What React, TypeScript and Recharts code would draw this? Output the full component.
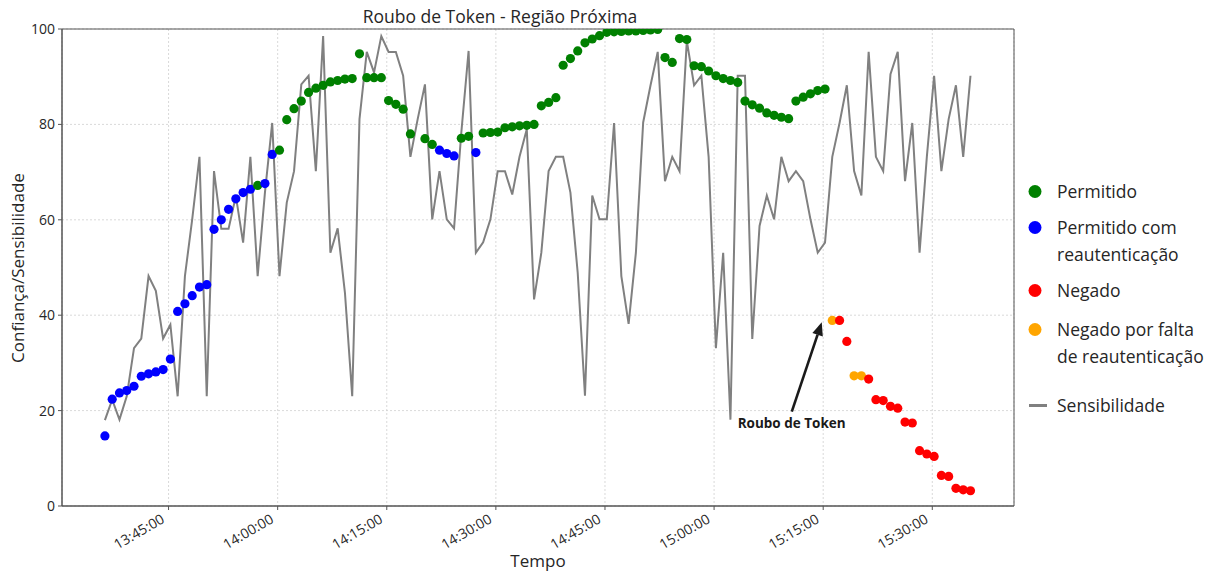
import React from 'react';
import {
  ComposedChart,
  Line,
  XAxis,
  YAxis,
  CartesianGrid,
  ReferenceArea,
  ReferenceLine,
  ReferenceDot,
  Legend,
} from 'recharts';

// Sample timestamps (one reading per minute)
const TIMES = [
  '13:36:15', '13:37:15', '13:38:15', '13:39:15', '13:40:15', '13:41:15', '13:42:15', '13:43:15', '13:44:15', '13:45:15',
  '13:46:15', '13:47:15', '13:48:15', '13:49:15', '13:50:15', '13:51:15', '13:52:15', '13:53:15', '13:54:15', '13:55:15',
  '13:56:15', '13:57:15', '13:58:15', '13:59:15', '14:00:15', '14:01:15', '14:02:15', '14:03:15', '14:04:15', '14:05:15',
  '14:06:15', '14:07:15', '14:08:15', '14:09:15', '14:10:15', '14:11:15', '14:12:15', '14:13:15', '14:14:15', '14:15:15',
  '14:16:15', '14:17:15', '14:18:15', '14:19:15', '14:20:15', '14:21:15', '14:22:15', '14:23:15', '14:24:15', '14:25:15',
  '14:26:15', '14:27:15', '14:28:15', '14:29:15', '14:30:15', '14:31:15', '14:32:15', '14:33:15', '14:34:15', '14:35:15',
  '14:36:15', '14:37:15', '14:38:15', '14:39:15', '14:40:15', '14:41:15', '14:42:15', '14:43:15', '14:44:15', '14:45:15',
  '14:46:15', '14:47:15', '14:48:15', '14:49:15', '14:50:15', '14:51:15', '14:52:15', '14:53:15', '14:54:15', '14:55:15',
  '14:56:15', '14:57:15', '14:58:15', '14:59:15', '15:00:15', '15:01:15', '15:02:15', '15:03:15', '15:04:15', '15:05:15',
  '15:06:15', '15:07:15', '15:08:15', '15:09:15', '15:10:15', '15:11:15', '15:12:15', '15:13:15', '15:14:15', '15:15:15',
  '15:16:15', '15:17:15', '15:18:15', '15:19:15', '15:20:15', '15:21:15', '15:22:15', '15:23:15', '15:24:15', '15:25:15',
  '15:26:15', '15:27:15', '15:28:15', '15:29:15', '15:30:15', '15:31:15', '15:32:15', '15:33:15', '15:34:15', '15:35:15',
];

// Confidence score of each access decision (null = no decision recorded)
const CONFIDENCE: (number | null)[] = [
  14.7, 22.4, 23.7, 24.2, 25.1, 27.2, 27.7, 28.1, 28.6, 30.8,
  40.8, 42.4, 44.1, 45.9, 46.4, 58.0, 60.0, 62.2, 64.4, 65.7,
  66.4, 67.2, 67.6, 73.7, 74.6, 81.0, 83.3, 84.9, 86.7, 87.6,
  88.2, 88.9, 89.2, 89.5, 89.6, 94.8, 89.8, 89.8, 89.8, 85.0,
  84.2, 83.2, 78.0, null, 77.0, 75.8, 74.6, 73.9, 73.4, 77.1,
  77.5, 74.1, 78.2, 78.3, 78.4, 79.3, 79.5, 79.7, 79.8, 80.0,
  83.9, 84.6, 85.6, 92.4, 93.8, 95.4, 97.1, 97.9, 98.6, 99.3,
  99.4, 99.5, 99.6, 99.6, 99.7, 99.8, 99.9, 94.0, 93.0, 98.0,
  97.8, 92.3, 92.1, 91.2, 90.2, 89.6, 89.2, 88.8, 84.9, 84.1,
  83.4, 82.4, 81.9, 81.5, 81.2, 84.9, 85.7, 86.4, 87.1, 87.4,
  38.9, 38.9, 34.5, 27.3, 27.3, 26.6, 22.3, 22.1, 20.9, 20.5,
  17.6, 17.4, 11.6, 10.9, 10.4, 6.4, 6.2, 3.7, 3.4, 3.2,
];

// Decision for each reading: P permitido, R com reautenticação, N negado, F falta de reautenticação
const STATUS = [
  'R', 'R', 'R', 'R', 'R', 'R', 'R', 'R', 'R', 'R',
  'R', 'R', 'R', 'R', 'R', 'R', 'R', 'R', 'R', 'R',
  'R', 'P', 'R', 'R', 'P', 'P', 'P', 'P', 'P', 'P',
  'P', 'P', 'P', 'P', 'P', 'P', 'P', 'P', 'P', 'P',
  'P', 'P', 'P', '', 'P', 'P', 'R', 'R', 'R', 'P',
  'P', 'R', 'P', 'P', 'P', 'P', 'P', 'P', 'P', 'P',
  'P', 'P', 'P', 'P', 'P', 'P', 'P', 'P', 'P', 'P',
  'P', 'P', 'P', 'P', 'P', 'P', 'P', 'P', 'P', 'P',
  'P', 'P', 'P', 'P', 'P', 'P', 'P', 'P', 'P', 'P',
  'P', 'P', 'P', 'P', 'P', 'P', 'P', 'P', 'P', 'P',
  'F', 'N', 'N', 'F', 'F', 'N', 'N', 'N', 'N', 'N',
  'N', 'N', 'N', 'N', 'N', 'N', 'N', 'N', 'N', 'N',
];

// Sensitivity of the requested resource
const SENSITIVITY = [
  18.0, 22.3, 18.1, 23.0, 33.1, 35.1, 48.2, 45.1, 35.1, 38.0,
  23.0, 48.2, 60.1, 73.2, 23.0, 70.2, 58.1, 58.1, 65.0, 55.2,
  73.2, 48.2, 65.7, 80.3, 48.2, 63.6, 70.2, 88.4, 90.2, 70.2,
  98.5, 53.1, 58.2, 44.7, 23.0, 81.1, 95.2, 90.9, 98.5, 95.2,
  95.2, 90.2, 73.2, 81.1, 88.4, 60.1, 70.2, 60.1, 58.2, 78.3,
  95.4, 53.1, 55.3, 60.1, 70.2, 70.2, 65.3, 73.2, 79.0, 43.3,
  53.1, 70.2, 73.2, 73.2, 65.7, 48.9, 23.1, 65.1, 60.1, 60.1,
  80.3, 48.2, 38.2, 53.1, 80.4, 88.1, 95.2, 68.1, 73.2, 70.2,
  97.5, 88.2, 90.2, 73.2, 33.1, 53.1, 18.1, 90.2, 90.2, 35.0,
  58.7, 65.1, 60.1, 73.2, 68.1, 70.2, 68.1, 60.1, 53.1, 55.2,
  73.2, 80.3, 88.2, 70.2, 65.1, 95.2, 73.2, 70.2, 90.5, 95.2,
  68.1, 80.3, 53.1, 73.2, 90.2, 70.2, 81.1, 88.2, 73.2, 90.2,
];

const X_TICK_LABELS = ['13:45:00', '14:00:00', '14:15:00', '14:30:00', '14:45:00', '15:00:00', '15:15:00', '15:30:00'];
const Y_TICKS = [0, 20, 40, 60, 80, 100];
const X_RANGE = ['13:30:21', '15:41:14'];

// Annotation: arrow from label to the first denied request
const ANNOTATION_TEXT = 'Roubo de Token';
const ARROW_FROM = { time: '15:10:41', value: 19.8 };
const ARROW_TO = { time: '15:14:48', value: 38.5 };
const LABEL_AT = { time: '15:10:40', value: 16.4 };

const CATEGORIES = [
  { key: 'P', lines: ['Permitido'], color: '#008000' },
  { key: 'R', lines: ['Permitido com', 'reautenticação'], color: '#0000ff' },
  { key: 'N', lines: ['Negado'], color: '#ff0000' },
  { key: 'F', lines: ['Negado por falta', 'de reautenticação'], color: '#ffa500' },
];
const SENS_NAME = 'Sensibilidade';
const SENS_COLOR = '#808080';

const FONT = '"Open Sans", "DejaVu Sans", sans-serif';
const TEXT_COLOR = '#262626';

const toMin = (s: string) => {
  const [h, m, sec] = s.split(':').map(Number);
  return h * 60 + m + sec / 60;
};
const pad = (n: number) => String(n).padStart(2, '0');
const fmtTime = (v: number) => {
  const total = Math.round(v * 60);
  const h = Math.floor(total / 3600);
  const m = Math.floor((total % 3600) / 60);
  const s = total % 60;
  return `${pad(h)}:${pad(m)}:${pad(s)}`;
};

const colorOf: Record<string, string> = Object.fromEntries(CATEGORIES.map((c) => [c.key, c.color]));

const rows = TIMES.map((t, i) => ({
  t: toMin(t),
  s: SENSITIVITY[i],
  c: STATUS[i] ? CONFIDENCE[i] : null,
  status: STATUS[i],
}));

const X_MIN = toMin(X_RANGE[0]);
const X_MAX = toMin(X_RANGE[1]);
const X_TICKS = X_TICK_LABELS.map(toMin);

// Decisions are drawn in time order so later points overlap earlier ones
const DecisionDot = (props: any) => {
  const { cx, cy, payload, index } = props;
  if (cy == null || !Number.isFinite(cy) || !payload || !payload.status) return <g key={`d-${index}`} />;
  return <circle key={`d-${index}`} cx={cx} cy={cy} r={4.6} fill={colorOf[payload.status]} stroke="none" />;
};

const TimeTick = (props: any) => {
  const { x, y, payload } = props;
  return (
    <g transform={`translate(${x - 3},${y + 10})`}>
      <text textAnchor="end" transform="rotate(-30)" fontFamily={FONT} fontSize={14} fill={TEXT_COLOR}>
        {fmtTime(payload.value)}
      </text>
    </g>
  );
};

const Arrow = (props: any) => {
  const { x1, y1, x2, y2 } = props;
  if (![x1, y1, x2, y2].every((v) => Number.isFinite(v))) return null;
  const ang = Math.atan2(y2 - y1, x2 - x1);
  const len = 13;
  const half = 5.5;
  const bx = x2 - len * Math.cos(ang);
  const by = y2 - len * Math.sin(ang);
  const px = -Math.sin(ang) * half;
  const py = Math.cos(ang) * half;
  return (
    <g>
      <line x1={x1} y1={y1} x2={bx} y2={by} stroke="#1a1a1a" strokeWidth={2.6} />
      <polygon points={`${x2},${y2} ${bx + px},${by + py} ${bx - px},${by - py}`} fill="#1a1a1a" />
    </g>
  );
};

const AnnotationLabel = (props: any) => {
  const { cx, cy } = props;
  if (!Number.isFinite(cx) || !Number.isFinite(cy)) return null;
  return (
    <text x={cx} y={cy} textAnchor="middle" fontFamily={FONT} fontWeight={700} fontSize={13.5} fill="#1a1a1a">
      {ANNOTATION_TEXT}
    </text>
  );
};

const LEGEND_TOPS = [3, 39, 102, 141, 217];

const LegendContent = () => (
  <div style={{ position: 'relative', width: 195, height: 250, fontFamily: FONT, fontSize: 17.5, color: TEXT_COLOR }}>
    {CATEGORIES.map((c, i) => (
      <div key={c.key} style={{ position: 'absolute', left: 0, top: LEGEND_TOPS[i], lineHeight: '27px' }}>
        <svg width={20} height={27} style={{ position: 'absolute', left: 0, top: 0 }}>
          <circle cx={10} cy={13.5} r={6.5} fill={c.color} />
        </svg>
        <div style={{ marginLeft: 32, whiteSpace: 'nowrap' }}>
          {c.lines.map((l) => (
            <div key={l}>{l}</div>
          ))}
        </div>
      </div>
    ))}
    <div style={{ position: 'absolute', left: 0, top: LEGEND_TOPS[4], lineHeight: '27px' }}>
      <svg width={24} height={27} style={{ position: 'absolute', left: 0, top: 0 }}>
        <line x1={4} y1={13.5} x2={22} y2={13.5} stroke={SENS_COLOR} strokeWidth={3} />
      </svg>
      <div style={{ marginLeft: 32, whiteSpace: 'nowrap' }}>{SENS_NAME}</div>
    </div>
  </div>
);

export default function App() {
  return (
    <div style={{ position: 'absolute', left: 0, top: 0, width: 1220, height: 575, background: '#fff' }}>
      <div
        style={{
          position: 'absolute',
          left: 300,
          top: 5,
          width: 400,
          textAlign: 'center',
          fontFamily: FONT,
          fontSize: 17.5,
          lineHeight: '22px',
          color: TEXT_COLOR,
          zIndex: 2,
        }}
      >
        Roubo de Token - Região Próxima
      </div>
      <div
        style={{
          position: 'absolute',
          left: 18 - 150,
          top: 268 - 11,
          width: 300,
          textAlign: 'center',
          fontFamily: FONT,
          fontSize: 17,
          lineHeight: '22px',
          color: TEXT_COLOR,
          transform: 'rotate(-90deg)',
          zIndex: 2,
        }}
      >
        Confiança/Sensibilidade
      </div>
      <ComposedChart width={1220} height={575} data={rows} margin={{ top: 29, right: 206, bottom: 0, left: 0 }}>
        <CartesianGrid stroke="#cfcfcf" strokeDasharray="2 2" strokeWidth={0.8} />
        <XAxis
          dataKey="t"
          type="number"
          domain={[X_MIN, X_MAX]}
          ticks={X_TICKS}
          allowDataOverflow
          height={69}
          tickSize={4}
          tick={<TimeTick />}
          tickLine={{ stroke: '#555' }}
          axisLine={{ stroke: '#555' }}
          interval={0}
          label={{ value: 'Tempo', position: 'insideBottom', offset: 8, fontFamily: FONT, fontSize: 17, fill: TEXT_COLOR }}
        />
        <YAxis
          type="number"
          domain={[0, 100]}
          ticks={Y_TICKS}
          width={62}
          tickSize={4}
          tickMargin={3}
          allowDataOverflow
          tick={{ fontFamily: FONT, fontSize: 14, fill: TEXT_COLOR }}
          tickLine={{ stroke: '#555' }}
          axisLine={{ stroke: '#555' }}
          interval={0}
        />
        <ReferenceArea x1={X_MIN} x2={X_MAX} y1={0} y2={100} fill="none" stroke="#555" strokeWidth={1} ifOverflow="visible" />
        <Line
          dataKey="s"
          type="linear"
          stroke={SENS_COLOR}
          strokeWidth={2}
          dot={false}
          activeDot={false}
          isAnimationActive={false}
        />
        <Line
          dataKey="c"
          type="linear"
          stroke="none"
          dot={DecisionDot}
          activeDot={false}
          isAnimationActive={false}
        />
        <ReferenceLine
          segment={[
            { x: toMin(ARROW_FROM.time), y: ARROW_FROM.value },
            { x: toMin(ARROW_TO.time), y: ARROW_TO.value },
          ]}
          shape={Arrow}
          ifOverflow="visible"
        />
        <ReferenceDot x={toMin(LABEL_AT.time)} y={LABEL_AT.value} r={0} shape={AnnotationLabel} ifOverflow="visible" />
        <Legend
          layout="vertical"
          align="center"
          verticalAlign="middle"
          content={LegendContent}
          wrapperStyle={{ left: 1025, top: 175, width: 195 }}
        />
      </ComposedChart>
    </div>
  );
}
